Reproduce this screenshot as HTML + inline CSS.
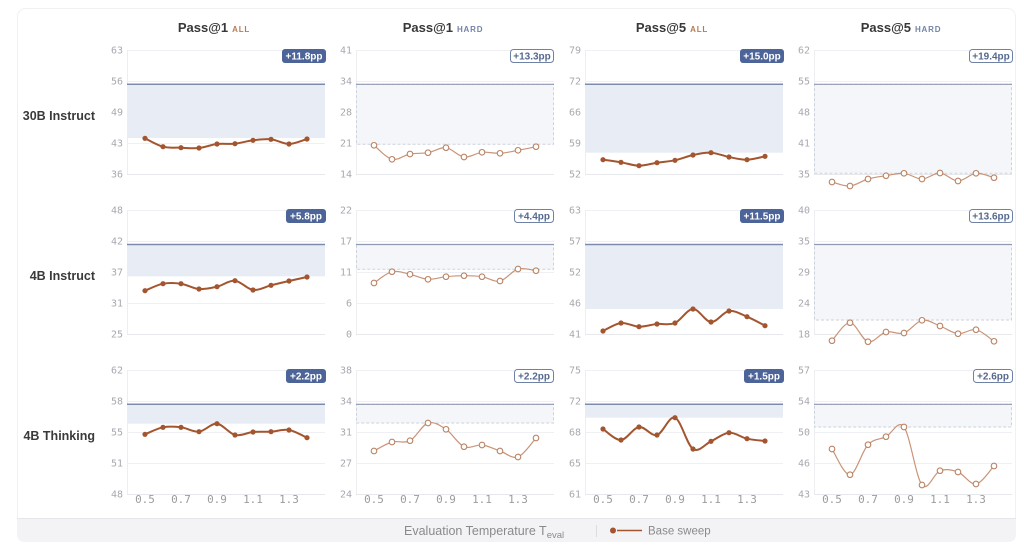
<!DOCTYPE html>
<html>
<head>
<meta charset="utf-8">
<style>
html,body{margin:0;padding:0;background:#fff;}
body{width:1024px;height:547px;overflow:hidden;}
svg{display:block;}
.t{font-family:"Liberation Sans",sans-serif;font-weight:bold;font-size:13px;fill:#383838;}
.sa{font-size:8px;letter-spacing:0.8px;fill:#b77a52;}
.sh{font-size:8px;letter-spacing:0.8px;fill:#7383a8;}
.rl{font-family:"Liberation Sans",sans-serif;font-weight:bold;font-size:12.5px;fill:#3a3a3a;text-anchor:end;}
.yl{font-family:"DejaVu Sans Mono","Liberation Mono",monospace;font-size:10px;fill:#a8a8b0;text-anchor:end;}
.xl{font-family:"DejaVu Sans Mono","Liberation Mono",monospace;font-size:11px;fill:#9c9c9c;text-anchor:middle;}
.bf{font-family:"Liberation Sans",sans-serif;font-weight:bold;font-size:10px;fill:#fff;text-anchor:middle;}
.bo{font-family:"Liberation Sans",sans-serif;font-weight:bold;font-size:10px;fill:#56698f;text-anchor:middle;}
.lg{font-family:"Liberation Sans",sans-serif;font-size:12.5px;fill:#8a8a8a;}
.lg2{font-family:"Liberation Sans",sans-serif;font-size:11.5px;fill:#8a8a8a;}
</style>
</head>
<body>
<svg id="s" width="1024" height="547" viewBox="0 0 1024 547" xmlns="http://www.w3.org/2000/svg">
<rect x="17.5" y="8.5" width="998" height="533" rx="8" fill="#fff" stroke="#f1f1f4"/>
<path d="M17 518 H1016 V534 Q1016 542 1008 542 H25 Q17 542 17 534 Z" fill="#f3f3f6"/>
<line x1="17" y1="518.5" x2="1016" y2="518.5" stroke="#e5e5ea"/>
<g id="shapes">
<!-- fallback polylines (replaced by script) -->
</g>

<!-- column titles -->
<text class="t" x="214" y="32" text-anchor="middle">Pass@1<tspan class="sa" dx="4">ALL</tspan></text>
<text class="t" x="443" y="32" text-anchor="middle">Pass@1<tspan class="sh" dx="4">HARD</tspan></text>
<text class="t" x="672" y="32" text-anchor="middle">Pass@5<tspan class="sa" dx="4">ALL</tspan></text>
<text class="t" x="901" y="32" text-anchor="middle">Pass@5<tspan class="sh" dx="4">HARD</tspan></text>

<!-- row labels -->
<text class="rl" x="95" y="120">30B Instruct</text>
<text class="rl" x="95" y="280">4B Instruct</text>
<text class="rl" x="95" y="440">4B Thinking</text>

<!-- y tick labels row 0 -->
<text class="yl" x="123" y="53.5">63</text><text class="yl" x="123" y="84.5">56</text><text class="yl" x="123" y="115.5">49</text><text class="yl" x="123" y="146.5">43</text><text class="yl" x="123" y="177.5">36</text>
<text class="yl" x="352" y="53.5">41</text><text class="yl" x="352" y="84.5">34</text><text class="yl" x="352" y="115.5">28</text><text class="yl" x="352" y="146.5">21</text><text class="yl" x="352" y="177.5">14</text>
<text class="yl" x="581" y="53.5">79</text><text class="yl" x="581" y="84.5">72</text><text class="yl" x="581" y="115.5">66</text><text class="yl" x="581" y="146.5">59</text><text class="yl" x="581" y="177.5">52</text>
<text class="yl" x="810" y="53.5">62</text><text class="yl" x="810" y="84.5">55</text><text class="yl" x="810" y="115.5">48</text><text class="yl" x="810" y="146.5">41</text><text class="yl" x="810" y="177.5">35</text>
<!-- row 1 -->
<text class="yl" x="123" y="213.5">48</text><text class="yl" x="123" y="244.5">42</text><text class="yl" x="123" y="275.5">37</text><text class="yl" x="123" y="306.5">31</text><text class="yl" x="123" y="337.5">25</text>
<text class="yl" x="352" y="213.5">22</text><text class="yl" x="352" y="244.5">17</text><text class="yl" x="352" y="275.5">11</text><text class="yl" x="352" y="306.5">6</text><text class="yl" x="352" y="337.5">0</text>
<text class="yl" x="581" y="213.5">63</text><text class="yl" x="581" y="244.5">57</text><text class="yl" x="581" y="275.5">52</text><text class="yl" x="581" y="306.5">46</text><text class="yl" x="581" y="337.5">41</text>
<text class="yl" x="810" y="213.5">40</text><text class="yl" x="810" y="244.5">35</text><text class="yl" x="810" y="275.5">29</text><text class="yl" x="810" y="306.5">24</text><text class="yl" x="810" y="337.5">18</text>
<!-- row 2 -->
<text class="yl" x="123" y="373.5">62</text><text class="yl" x="123" y="404.5">58</text><text class="yl" x="123" y="435.5">55</text><text class="yl" x="123" y="466.5">51</text><text class="yl" x="123" y="497.5">48</text>
<text class="yl" x="352" y="373.5">38</text><text class="yl" x="352" y="404.5">34</text><text class="yl" x="352" y="435.5">31</text><text class="yl" x="352" y="466.5">27</text><text class="yl" x="352" y="497.5">24</text>
<text class="yl" x="581" y="373.5">75</text><text class="yl" x="581" y="404.5">72</text><text class="yl" x="581" y="435.5">68</text><text class="yl" x="581" y="466.5">65</text><text class="yl" x="581" y="497.5">61</text>
<text class="yl" x="810" y="373.5">57</text><text class="yl" x="810" y="404.5">54</text><text class="yl" x="810" y="435.5">50</text><text class="yl" x="810" y="466.5">46</text><text class="yl" x="810" y="497.5">43</text>

<!-- x tick labels -->
<text class="xl" x="145" y="503">0.5</text><text class="xl" x="181" y="503">0.7</text><text class="xl" x="217" y="503">0.9</text><text class="xl" x="253" y="503">1.1</text><text class="xl" x="289" y="503">1.3</text>
<text class="xl" x="374" y="503">0.5</text><text class="xl" x="410" y="503">0.7</text><text class="xl" x="446" y="503">0.9</text><text class="xl" x="482" y="503">1.1</text><text class="xl" x="518" y="503">1.3</text>
<text class="xl" x="603" y="503">0.5</text><text class="xl" x="639" y="503">0.7</text><text class="xl" x="675" y="503">0.9</text><text class="xl" x="711" y="503">1.1</text><text class="xl" x="747" y="503">1.3</text>
<text class="xl" x="832" y="503">0.5</text><text class="xl" x="868" y="503">0.7</text><text class="xl" x="904" y="503">0.9</text><text class="xl" x="940" y="503">1.1</text><text class="xl" x="976" y="503">1.3</text>

<!-- badges row 0 -->
<rect x="282" y="49" width="44" height="14" rx="3" fill="#4d6499"/><text class="bf" x="304" y="59.5">+11.8pp</text>
<rect x="510.5" y="49.5" width="43" height="13" rx="3" fill="#fff" stroke="#7081a6"/><text class="bo" x="532" y="59.5">+13.3pp</text>
<rect x="740" y="49" width="44" height="14" rx="3" fill="#4d6499"/><text class="bf" x="762" y="59.5">+15.0pp</text>
<rect x="969.5" y="49.5" width="43" height="13" rx="3" fill="#fff" stroke="#7081a6"/><text class="bo" x="991" y="59.5">+19.4pp</text>
<!-- row 1 -->
<rect x="286" y="209" width="40" height="14" rx="3" fill="#4d6499"/><text class="bf" x="306" y="219.5">+5.8pp</text>
<rect x="514.5" y="209.5" width="39" height="13" rx="3" fill="#fff" stroke="#7081a6"/><text class="bo" x="534" y="219.5">+4.4pp</text>
<rect x="740" y="209" width="44" height="14" rx="3" fill="#4d6499"/><text class="bf" x="762" y="219.5">+11.5pp</text>
<rect x="969.5" y="209.5" width="43" height="13" rx="3" fill="#fff" stroke="#7081a6"/><text class="bo" x="991" y="219.5">+13.6pp</text>
<!-- row 2 -->
<rect x="286" y="369" width="40" height="14" rx="3" fill="#4d6499"/><text class="bf" x="306" y="379.5">+2.2pp</text>
<rect x="514.5" y="369.5" width="39" height="13" rx="3" fill="#fff" stroke="#7081a6"/><text class="bo" x="534" y="379.5">+2.2pp</text>
<rect x="744" y="369" width="40" height="14" rx="3" fill="#4d6499"/><text class="bf" x="764" y="379.5">+1.5pp</text>
<rect x="973.5" y="369.5" width="39" height="13" rx="3" fill="#fff" stroke="#7081a6"/><text class="bo" x="993" y="379.5">+2.6pp</text>

<!-- legend -->
<text class="lg" x="404" y="535">Evaluation Temperature T<tspan font-size="9.5" dy="3">eval</tspan></text>
<line x1="596.5" y1="525" x2="596.5" y2="537" stroke="#dcdce0"/>
<circle cx="613" cy="530.5" r="3" fill="#a3552f"/>
<line x1="617" y1="530.5" x2="642" y2="530.5" stroke="#a3552f" stroke-width="1.5"/>
<text class="lg2" x="648" y="534.5">Base sweep</text>
</svg>
<script>
(function(){
var NS="http://www.w3.org/2000/svg";
var g=document.getElementById("shapes");
function el(n,a){var e=document.createElementNS(NS,n);for(var k in a)e.setAttribute(k,a[k]);g.appendChild(e);return e;}
var L=[127,356,585,814],T=[50,210,370],W=198,H=124;
var P=[
 [{hard:0,y:[138.3,146.7,147.7,148,144,143.7,140.3,139.3,144,139],b:[84.3,138]},
  {hard:1,y:[145.3,159.3,154,152.7,147.7,157,152.3,153.3,150.3,146.7],b:[84.3,144.3]},
  {hard:0,y:[159.7,162.3,165.7,162.7,160.3,155,152.7,157,159.7,156.3],b:[84.3,152.7]},
  {hard:1,y:[182,186,179,175.7,173.3,179,173,181,173.3,177.7],b:[84.3,173.3]}],
 [{hard:0,y:[290.7,283.7,283.7,289,286.7,280.7,290,285.3,281,277],b:[244.5,276.3]},
  {hard:1,y:[283,271.7,274.3,279.3,276.7,275.7,276.7,281,269,270.7],b:[244.5,269.3]},
  {hard:0,y:[331,323,326.7,324,323,309,322,311,316.7,325.7],b:[244.5,309]},
  {hard:1,y:[340.7,322.7,341.7,332,333,320.3,326,333.7,329.7,341.3],b:[244.5,320]}],
 [{hard:0,y:[434.3,427.3,427.3,431.7,423.7,435,432,431.7,430,437.7],b:[404.3,423.7]},
  {hard:1,y:[451,442,440.7,423,429.3,446.7,445,451,457,438],b:[404.3,423]},
  {hard:0,y:[429,440,427,435,417.7,449,441.3,432.7,438.7,441],b:[404.3,417.7]},
  {hard:1,y:[449,474.7,444.7,436.7,427,485,470.7,472,484,466],b:[404.3,427]}]
];
for(var r=0;r<3;r++)for(var c=0;c<4;c++){
 var l=L[c],t=T[r],p=P[r][c];
 // gridlines
 for(var k=0;k<5;k++){var yy=t+k*31+0.5;el("line",{x1:l,x2:l+W,y1:yy,y2:yy,stroke:k==4?"#e6e8ec":"#eff0f3","stroke-width":1});}
 el("line",{x1:l+0.5,x2:l+0.5,y1:t,y2:t+H,stroke:"#eceef1"});
 // band
 var b0=p.b[0],b1=p.b[1];
 if(!p.hard){
  el("rect",{x:l,y:b0,width:W,height:b1-b0,fill:"#e8ecf4"});
  el("line",{x1:l,x2:l+W,y1:b0,y2:b0,stroke:"#7d8cae","stroke-width":1.5});
 } else {
  el("rect",{x:l+0.5,y:b0,width:W-1,height:b1-b0,fill:"#f4f6fa",stroke:"#cdd2dc","stroke-dasharray":"3,2","stroke-width":1});
  el("line",{x1:l,x2:l+W,y1:b0,y2:b0,stroke:"#8f9ab3","stroke-width":1.2});
 }
 // series
 var pts=[];for(var i=0;i<10;i++)pts.push([l+18*(i+1),p.y[i]]);
 var d="M"+pts[0][0]+","+pts[0][1];
 for(var i=0;i<9;i++){
  var a=pts[i-1]||pts[i],b=pts[i],cc=pts[i+1],e=pts[i+2]||pts[i+1];
  var c1x=b[0]+(cc[0]-a[0])/6,c1y=b[1]+(cc[1]-a[1])/6;
  var c2x=cc[0]-(e[0]-b[0])/6,c2y=cc[1]-(e[1]-b[1])/6;
  d+=" C"+c1x.toFixed(2)+","+c1y.toFixed(2)+" "+c2x.toFixed(2)+","+c2y.toFixed(2)+" "+cc[0]+","+cc[1];
 }
 if(!p.hard){
  el("path",{d:d,fill:"none",stroke:"#a3552f","stroke-width":2});
  pts.forEach(function(q){el("circle",{cx:q[0],cy:q[1],r:2.6,fill:"#a3552f"});});
 } else {
  el("path",{d:d,fill:"none",stroke:"#c99478","stroke-width":1.2});
  pts.forEach(function(q){el("circle",{cx:q[0],cy:q[1],r:2.8,fill:"#fff",stroke:"#b98262","stroke-width":1.1});});
 }
}
})();
</script>
</body>
</html>
